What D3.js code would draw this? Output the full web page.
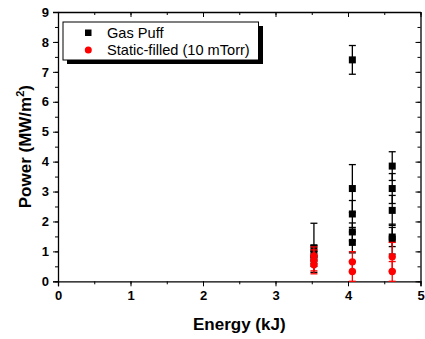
<!DOCTYPE html>
<html>
<head>
<meta charset="utf-8">
<script src="https://cdn.jsdelivr.net/npm/d3@7"></script>
<style>
  body { margin: 0; background: #fff; }
  text { font-family: "Liberation Sans", Arial, sans-serif; }
</style>
</head>
<body>
<svg id="svg1" width="425" height="339"></svg>
<script>
// data
const gasEnergy = [3.53, 3.53, 3.53, 4.06, 4.06, 4.06, 4.06, 4.06, 4.61, 4.61, 4.61, 4.61, 4.61];
const gasPower  = [1.12, 0.90, 0.75, 7.40, 3.10, 2.25, 1.65, 1.30, 3.85, 3.10, 2.37, 1.48, 1.41];
const gasErr    = [0.82, 0.30, 0.25, 0.48, 0.80, 0.45, 0.30, 0.35, 0.48, 0.50, 0.50, 0.32, 0.50];

const staticEnergy = [3.53, 3.53, 3.53, 4.06, 4.06, 4.61, 4.61];
const staticPower  = [0.85, 0.70, 0.55, 0.65, 0.33, 0.82, 0.33];
const staticErr    = [0.30, 0.35, 0.30, 0.34, 0.33, 0.48, 0.33];

const xTicks = [0, 1, 2, 3, 4, 5];
const yTicks = [0, 1, 2, 3, 4, 5, 6, 7, 8, 9];
const seriesNames = ['Gas Puff', 'Static-filled (10 mTorr)'];

const svg = d3.select('#svg1');
const pLeft = 58, pRight = 420.5, pTop = 12, pBottom = 281.3;

const x = d3.scaleLinear().domain([0, 5]).range([pLeft, pRight]);
const y = d3.scaleLinear().domain([0, 9]).range([pBottom, pTop]);

const minorX = d3.range(0, 5.01, 0.5);
const minorY = d3.range(0, 9.01, 0.5);

// bottom axis (ticks outward)
svg.append('g')
    .attr('transform', `translate(0,${pBottom})`)
    .call(d3.axisBottom(x).tickValues(minorX).tickSize(3).tickFormat(''))
    .call(g => g.select('.domain').remove());
svg.append('g')
    .attr('class', 'xaxis')
    .attr('transform', `translate(0,${pBottom})`)
    .call(d3.axisBottom(x).tickValues(xTicks).tickSize(5).tickPadding(4).tickFormat(d3.format('d')));

// left axis (ticks outward)
svg.append('g')
    .attr('transform', `translate(${pLeft},0)`)
    .call(d3.axisLeft(y).tickValues(minorY).tickSize(3).tickFormat(''))
    .call(g => g.select('.domain').remove());
svg.append('g')
    .attr('class', 'yaxis')
    .attr('transform', `translate(${pLeft},0)`)
    .call(d3.axisLeft(y).tickValues(yTicks).tickSize(5).tickPadding(4).tickFormat(d3.format('d')));

// top and right axes (ticks inward, no labels)
svg.append('g')
    .attr('transform', `translate(0,${pTop})`)
    .call(d3.axisBottom(x).tickValues(minorX).tickSize(3).tickFormat(''))
    .call(g => g.select('.domain').remove());
svg.append('g')
    .attr('transform', `translate(0,${pTop})`)
    .call(d3.axisBottom(x).tickValues(xTicks).tickSize(5).tickFormat('').tickSizeOuter(0));
svg.append('g')
    .attr('transform', `translate(${pRight},0)`)
    .call(d3.axisLeft(y).tickValues(minorY).tickSize(3).tickFormat(''))
    .call(g => g.select('.domain').remove());
svg.append('g')
    .attr('transform', `translate(${pRight},0)`)
    .call(d3.axisLeft(y).tickValues(yTicks).tickSize(5).tickFormat('').tickSizeOuter(0));

svg.selectAll('.domain').attr('stroke', '#000').attr('stroke-width', 1.3);
svg.selectAll('.tick line').attr('stroke', '#000').attr('stroke-width', 1);
svg.selectAll('.xaxis text, .yaxis text')
    .attr('font-size', 13)
    .attr('font-weight', 'bold')
    .attr('fill', '#000');

// axis titles
svg.append('text')
    .attr('x', (pLeft + pRight) / 2)
    .attr('y', 330)
    .attr('text-anchor', 'middle')
    .attr('font-size', 17)
    .attr('font-weight', 'bold')
    .text('Energy (kJ)');

const yl = svg.append('text')
    .attr('transform', `translate(31,${(pTop + pBottom) / 2}) rotate(-90)`)
    .attr('text-anchor', 'middle')
    .attr('font-size', 17)
    .attr('font-weight', 'bold');
yl.append('tspan').text('Power (MW/m');
yl.append('tspan').attr('font-size', 11).attr('dy', -7).text('2');
yl.append('tspan').attr('dy', 7).text(')');

// series
function drawSeries(energy, power, err, color, shape) {
  const g = svg.append('g');
  const idx = d3.range(energy.length);
  const cap = 3.5;
  idx.forEach(i => {
    const cx = x(energy[i]);
    const y1 = y(power[i] + err[i]);
    const y0 = y(Math.max(0, power[i] - err[i]));
    g.append('line').attr('x1', cx).attr('x2', cx).attr('y1', y1).attr('y2', y0)
        .attr('stroke', color).attr('stroke-width', 1.3);
    [y1, y0].forEach(yy => {
      g.append('line').attr('x1', cx - cap).attr('x2', cx + cap).attr('y1', yy).attr('y2', yy)
          .attr('stroke', color).attr('stroke-width', 1.3);
    });
  });
  idx.forEach(i => {
    const cx = x(energy[i]), cy = y(power[i]);
    if (shape === 'square') {
      g.append('rect').attr('x', cx - 3.5).attr('y', cy - 3.5).attr('width', 7).attr('height', 7)
          .attr('fill', color);
    } else {
      g.append('circle').attr('cx', cx).attr('cy', cy).attr('r', 3.7).attr('fill', color);
    }
  });
}

drawSeries(gasEnergy, gasPower, gasErr, '#000', 'square');
drawSeries(staticEnergy, staticPower, staticErr, '#ff0000', 'circle');

// legend
const lg = svg.append('g');
lg.append('rect').attr('x', 67).attr('y', 26).attr('width', 196).attr('height', 38).attr('fill', '#000');
lg.append('rect').attr('x', 63).attr('y', 22).attr('width', 195.5).attr('height', 38)
    .attr('fill', '#fff').attr('stroke', '#000').attr('stroke-width', 1);
lg.append('rect').attr('x', 85).attr('y', 29.5).attr('width', 6.5).attr('height', 6.5).attr('fill', '#000');
lg.append('circle').attr('cx', 88.3).attr('cy', 50).attr('r', 3.5).attr('fill', '#ff0000');
lg.selectAll('text.leg').data(seriesNames).enter().append('text')
    .attr('class', 'leg')
    .attr('x', 107)
    .attr('y', (d, i) => 37.5 + i * 17.5)
    .attr('font-size', 14.6)
    .text(d => d);
</script>
</body>
</html>
